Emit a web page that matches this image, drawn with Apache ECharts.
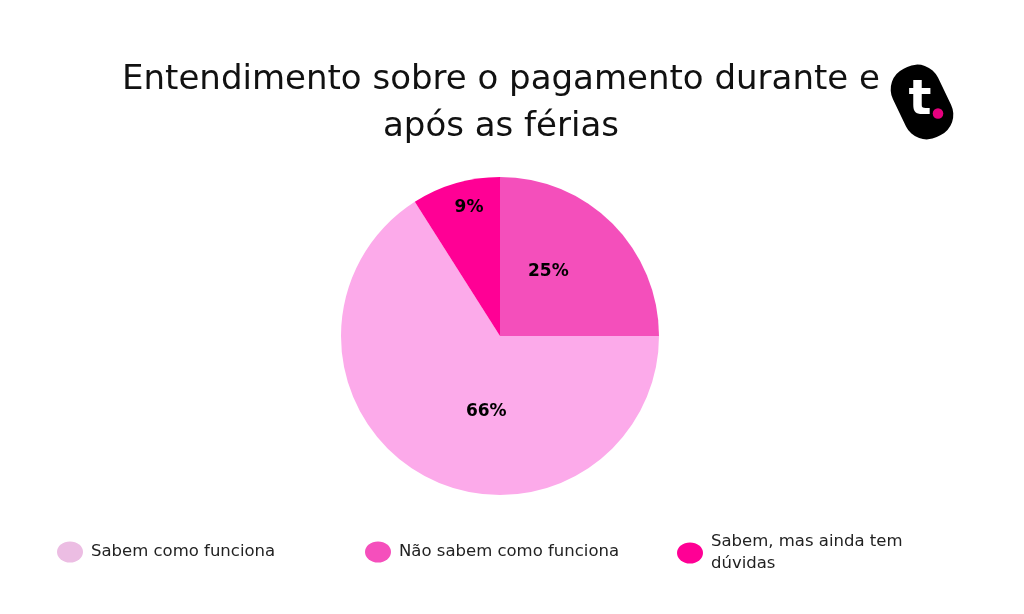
<!DOCTYPE html>
<html><head><meta charset="utf-8">
<script src="https://cdn.jsdelivr.net/npm/echarts@6/dist/echarts.min.js"></script>
<style>html,body{margin:0;padding:0;background:#fff}#c{width:1024px;height:614px}</style>
</head><body><div id="c"></div>
<script>
const titleText = 'Entendimento sobre o pagamento durante e\napós as férias';
const categories = ['Não sabem como funciona', 'Sabem como funciona', 'Sabem, mas ainda tem dúvidas'];
const values = [25, 66, 9];
const legendOrder = ['Sabem como funciona', 'Não sabem como funciona', 'Sabem, mas ainda tem dúvidas'];

const sliceColors = ['#f44fbb', '#fcaaea', '#ff0095'];
const legendColors = {'Sabem como funciona': '#ecbde3', 'Não sabem como funciona': '#f54fbc', 'Sabem, mas ainda tem dúvidas': '#ff0095'};
const labelOffsets = [[-10, -6], [26, 3], [-8, -49]];
const legendLeft = [57, 365, 677];
const ellipse = 'path://M0,10.5a13,10.5 0 1,0 26,0a13,10.5 0 1,0 -26,0z';
const FONT = '"DejaVu Sans", "Noto Sans", sans-serif';

const chart = echarts.init(document.getElementById('c'));
chart.setOption({
  backgroundColor: '#fff',
  animation: false,
  title: {
    text: titleText, left: 501, top: 57, textAlign: 'center', padding: 0,
    textStyle: {fontFamily: FONT, fontSize: 34, fontWeight: 'normal', color: '#111', lineHeight: 47}
  },
  legend: legendOrder.map((name, i) => ({
    data: [{name: name, itemStyle: {color: legendColors[name]}}],
    left: legendLeft[i], top: 'auto', bottom: i === 2 ? 39 : 51, padding: 0,
    icon: ellipse, itemWidth: 26, itemHeight: 21, itemGap: 0,
    selectedMode: false,
    formatter: n => n === 'Sabem, mas ainda tem dúvidas' ? 'Sabem, mas ainda tem\ndúvidas' : n,
    textStyle: {fontFamily: FONT, fontSize: 16.5, color: '#222', lineHeight: 22, padding: [0, 0, 0, 3]}
  })),
  graphic: [
    {type: 'rect', x: 922, y: 102, originX: 0, originY: 0, rotation: 0.45,
      shape: {x: -25, y: -38, width: 50, height: 76, r: 23}, style: {fill: '#000'}},
    {type: 'text', x: 920, y: 102, style: {text: 't', fill: '#fff', font: 'bold 48px ' + FONT, textAlign: 'center', textVerticalAlign: 'middle'}},
    {type: 'circle', shape: {cx: 938, cy: 113.5, r: 5.3}, style: {fill: '#e6007e'}}
  ],
  series: [{
    type: 'pie', center: [500, 336], radius: 159, startAngle: 90, clockwise: true,
    avoidLabelOverlap: false, silent: true,
    data: categories.map((c, i) => ({
      name: c, value: values[i],
      itemStyle: {color: sliceColors[i]},
      label: {offset: labelOffsets[i]}
    })),
    label: {
      show: true, position: 'inside', formatter: p => p.value + '%',
      fontFamily: FONT, fontSize: 17, fontWeight: 'bold', color: '#000'
    },
    labelLine: {show: false},
    itemStyle: {borderWidth: 0}
  }]
});
</script></body></html>
